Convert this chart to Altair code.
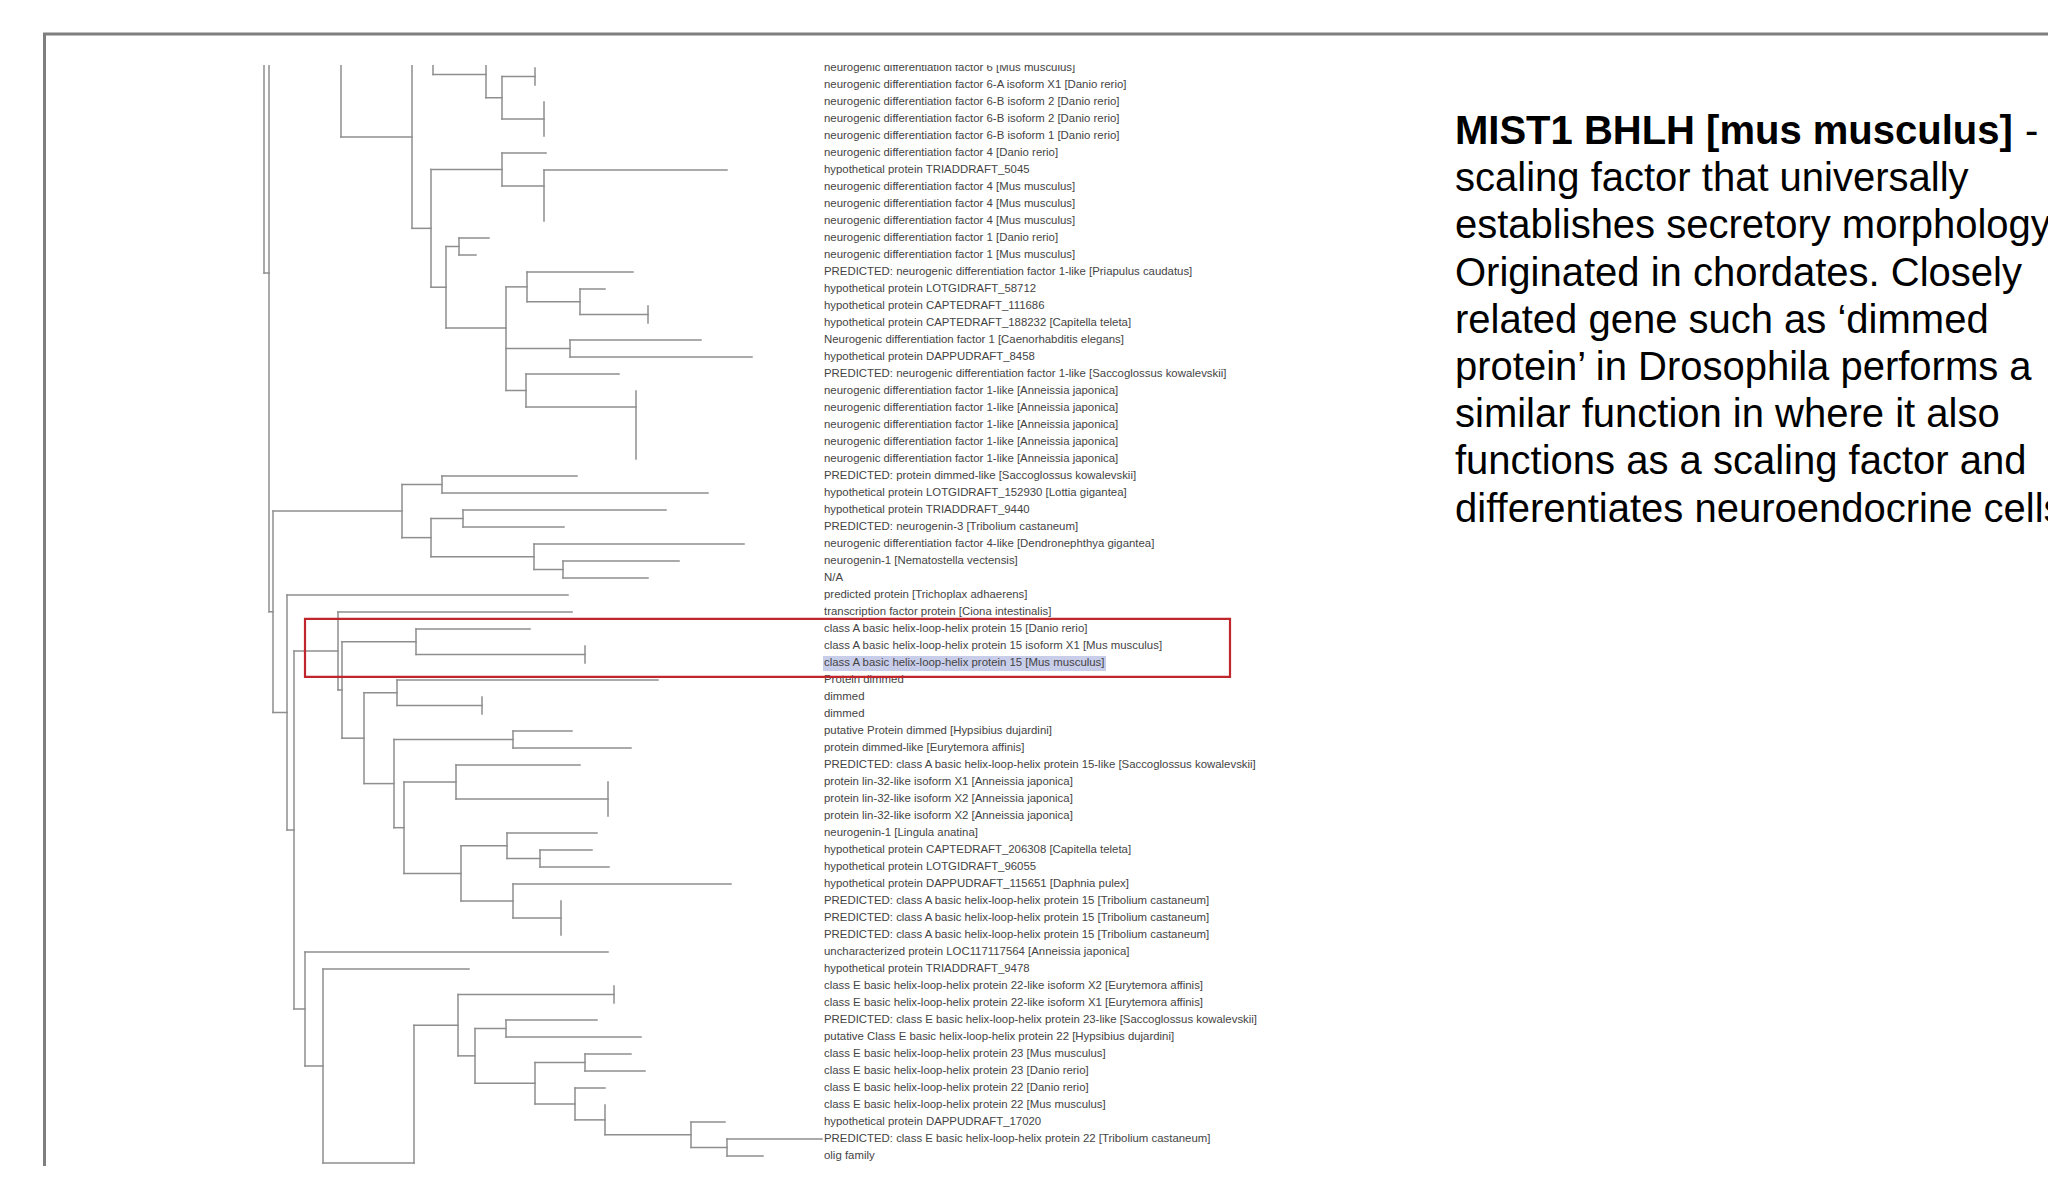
import altair as alt
import pandas as pd

# ---------------- data ----------------
# leaf labels, top to bottom (leaf index = row)
leaf_names = [
    "neurogenic differentiation factor 6 [Mus musculus]",
    "neurogenic differentiation factor 6-A isoform X1 [Danio rerio]",
    "neurogenic differentiation factor 6-B isoform 2 [Danio rerio]",
    "neurogenic differentiation factor 6-B isoform 2 [Danio rerio]",
    "neurogenic differentiation factor 6-B isoform 1 [Danio rerio]",
    "neurogenic differentiation factor 4 [Danio rerio]",
    "hypothetical protein TRIADDRAFT_5045",
    "neurogenic differentiation factor 4 [Mus musculus]",
    "neurogenic differentiation factor 4 [Mus musculus]",
    "neurogenic differentiation factor 4 [Mus musculus]",
    "neurogenic differentiation factor 1 [Danio rerio]",
    "neurogenic differentiation factor 1 [Mus musculus]",
    "PREDICTED: neurogenic differentiation factor 1-like [Priapulus caudatus]",
    "hypothetical protein LOTGIDRAFT_58712",
    "hypothetical protein CAPTEDRAFT_111686",
    "hypothetical protein CAPTEDRAFT_188232 [Capitella teleta]",
    "Neurogenic differentiation factor 1 [Caenorhabditis elegans]",
    "hypothetical protein DAPPUDRAFT_8458",
    "PREDICTED: neurogenic differentiation factor 1-like [Saccoglossus kowalevskii]",
    "neurogenic differentiation factor 1-like [Anneissia japonica]",
    "neurogenic differentiation factor 1-like [Anneissia japonica]",
    "neurogenic differentiation factor 1-like [Anneissia japonica]",
    "neurogenic differentiation factor 1-like [Anneissia japonica]",
    "neurogenic differentiation factor 1-like [Anneissia japonica]",
    "PREDICTED: protein dimmed-like [Saccoglossus kowalevskii]",
    "hypothetical protein LOTGIDRAFT_152930 [Lottia gigantea]",
    "hypothetical protein TRIADDRAFT_9440",
    "PREDICTED: neurogenin-3 [Tribolium castaneum]",
    "neurogenic differentiation factor 4-like [Dendronephthya gigantea]",
    "neurogenin-1 [Nematostella vectensis]",
    "N/A",
    "predicted protein [Trichoplax adhaerens]",
    "transcription factor protein [Ciona intestinalis]",
    "class A basic helix-loop-helix protein 15 [Danio rerio]",
    "class A basic helix-loop-helix protein 15 isoform X1 [Mus musculus]",
    "class A basic helix-loop-helix protein 15 [Mus musculus]",
    "Protein dimmed",
    "dimmed",
    "dimmed",
    "putative Protein dimmed [Hypsibius dujardini]",
    "protein dimmed-like [Eurytemora affinis]",
    "PREDICTED: class A basic helix-loop-helix protein 15-like [Saccoglossus kowalevskii]",
    "protein lin-32-like isoform X1 [Anneissia japonica]",
    "protein lin-32-like isoform X2 [Anneissia japonica]",
    "protein lin-32-like isoform X2 [Anneissia japonica]",
    "neurogenin-1 [Lingula anatina]",
    "hypothetical protein CAPTEDRAFT_206308 [Capitella teleta]",
    "hypothetical protein LOTGIDRAFT_96055",
    "hypothetical protein DAPPUDRAFT_115651 [Daphnia pulex]",
    "PREDICTED: class A basic helix-loop-helix protein 15 [Tribolium castaneum]",
    "PREDICTED: class A basic helix-loop-helix protein 15 [Tribolium castaneum]",
    "PREDICTED: class A basic helix-loop-helix protein 15 [Tribolium castaneum]",
    "uncharacterized protein LOC117117564 [Anneissia japonica]",
    "hypothetical protein TRIADDRAFT_9478",
    "class E basic helix-loop-helix protein 22-like isoform X2 [Eurytemora affinis]",
    "class E basic helix-loop-helix protein 22-like isoform X1 [Eurytemora affinis]",
    "PREDICTED: class E basic helix-loop-helix protein 23-like [Saccoglossus kowalevskii]",
    "putative Class E basic helix-loop-helix protein 22 [Hypsibius dujardini]",
    "class E basic helix-loop-helix protein 23 [Mus musculus]",
    "class E basic helix-loop-helix protein 23 [Danio rerio]",
    "class E basic helix-loop-helix protein 22 [Danio rerio]",
    "class E basic helix-loop-helix protein 22 [Mus musculus]",
    "hypothetical protein DAPPUDRAFT_17020",
    "PREDICTED: class E basic helix-loop-helix protein 22 [Tribolium castaneum]",
    "olig family",
]

# parent node of each leaf
leaf_parent = [
    "N507", "N507", "N515a", "N515a", "N515a", "N477b", "N515b", "N515b", "N515b", "N515b",
    "N438", "N438", "N500a", "N547", "N609", "N609", "N538", "N538", "N499",
    "N598", "N598", "N598", "N598", "N598",
    "N423", "N423", "N442", "N442", "N506", "N532", "N532",
    "P", "A", "N400", "N552", "N552",
    "D", "N459", "N459", "F", "F", "H", "N573", "N573", "N573",
    "J", "K", "K", "L", "N530", "N530", "N530",
    "R", "S", "N578", "N578", "N481c", "N481c", "N552c", "N552c", "N543", "N570",
    "N647", "N680", "N680",
]

# tip distance of each leaf (branch-length units from the root)
leaf_tip = [
    272, 272, 281, 281, 281, 283, 464, 281, 281, 281,
    226, 213, 370, 342, 385, 385, 438, 489, 356,
    373, 373, 373, 373, 373,
    314, 445, 403, 301, 481, 416, 385,
    305, 309, 267, 322, 322,
    395, 219, 219, 309, 368, 317, 345, 345, 345,
    334, 329, 346, 468, 298, 298, 298,
    345, 206, 351, 351, 334, 378, 368, 382, 342, 342,
    462, 559, 500,
]

# internal nodes: id, parent, distance from root
node_ids = [
    "R0", "W", "N332", "N396", "N415", "N463", "N477", "N507", "N515a",
    "N413", "N477b", "N515b", "N427", "N438", "N481", "N500a", "N547", "N609",
    "N538", "N499", "N598",
    "X", "N387", "N423", "N413b", "N442", "N506", "N532",
    "P", "Q", "A", "B", "N400", "N552", "C", "D", "N459", "E", "F", "G", "H",
    "N573", "I", "J", "K", "L", "N530",
    "R", "S", "T", "U", "N578", "N453", "N481c", "N507c", "N552c", "N543",
    "N570", "N647", "N680",
]
node_parent = [
    None, "R0", "W", "N332", "N396", "N415", "N463", "N477", "N477",
    "N396", "N413", "N477b", "N413", "N427", "N427", "N481", "N500a", "N547",
    "N481", "N481", "N499",
    "W", "X", "N387", "N387", "N413b", "N413b", "N506",
    "X", "P", "Q", "A", "B", "N400", "B", "C", "D", "C", "E", "E", "G",
    "H", "G", "I", "J", "I", "L",
    "Q", "R", "S", "T", "U", "U", "N453", "N453", "N507c", "N507c",
    "N543", "N570", "N647",
]
node_dist = [
    1, 6, 78, 149, 170, 223, 239, 272, 281,
    168, 239, 281, 183, 196, 243, 264, 317, 385,
    307, 263, 373,
    10, 139, 179, 168, 200, 271, 300,
    24, 31, 75, 79, 153, 322, 101, 134, 219, 131, 250, 141, 193,
    345, 198, 244, 277, 250, 298,
    42, 60, 151, 195, 351, 212, 243, 272, 322, 312,
    342, 428, 464,
]
# stem rows read directly where they are not the midpoint of the children
stem_row = {"N515b": 6.94, "N481": 15.29, "N598": 19.94, "T": 64.41}
# branches that continue above the cropped top edge of the picture
cropped_rows = [-20.0, -19.8, -3.0, -1.0]
cropped_parent = ["R0", "N332", "N415", "N463"]

label_dist = 561                        # where the leaf labels start
box_dist = [42, 967]                    # red box, horizontal extent
box_rows = [32.41, 35.82]               # red box, vertical extent
hl_dist = [560, 843]                    # selection highlight behind leaf 35
hl_rows = [34.59, 35.47]

title_bold = "MIST1 BHLH [mus musculus]"
paragraph = [
    "scaling factor that universally",
    "establishes secretory morphology.",
    "Originated in chordates. Closely",
    "related gene such as \u2018dimmed",
    "protein\u2019 in Drosophila performs a",
    "similar function in where it also",
    "functions as a scaling factor and",
    "differentiates neuroendocrine cells",
]

# ---------------- build tree segments ----------------
dist = dict(zip(node_ids, node_dist))
kids = {n: [] for n in node_ids}
for i, p in enumerate(leaf_parent):
    kids[p].append(("leaf", i))
for r, p in zip(cropped_rows, cropped_parent):
    kids[p].append(("cut", r))
for n, p in zip(node_ids, node_parent):
    if p is not None:
        kids[p].append(("node", n))

memo = {}


def row_of(kind, key):
    if kind in ("leaf", "cut"):
        return float(key)
    if key in memo:
        return memo[key]
    ys = [row_of(k, v) for k, v in kids[key]]
    y = stem_row.get(key, (min(ys) + max(ys)) / 2)
    memo[key] = y
    return y


segs = []
for n, p in zip(node_ids, node_parent):
    y = row_of("node", n)
    if p is not None and dist[n] > dist[p]:
        segs.append({"x": dist[p], "x2": dist[n], "y": y, "y2": y})
    ys = [row_of(k, v) for k, v in kids[n]] + [y]
    segs.append({"x": dist[n], "x2": dist[n], "y": min(ys), "y2": max(ys)})
for i, p in enumerate(leaf_parent):
    if leaf_tip[i] > dist[p]:
        segs.append({"x": dist[p], "x2": leaf_tip[i], "y": float(i), "y2": float(i)})
seg_df = pd.DataFrame(segs)

lab_df = pd.DataFrame({"row": list(range(len(leaf_names))),
                       "name": leaf_names,
                       "x": [label_dist] * len(leaf_names)})
box_df = pd.DataFrame({"x": [box_dist[0]], "x2": [box_dist[1]],
                       "y": [box_rows[0]], "y2": [box_rows[1]]})
hl_df = pd.DataFrame({"x": [hl_dist[0]], "x2": [hl_dist[1]],
                      "y": [hl_rows[0]], "y2": [hl_rows[1]]})
one = pd.DataFrame({"k": [0]})

# ---------------- scales / layout ----------------
W, H = 2040, 1101
xs = alt.Scale(domain=[-255, 1785], nice=False, zero=False)
ys = alt.Scale(domain=[-3 / 17, (H - 3) / 17], nice=False, zero=False, reverse=True)
FONT = "Liberation Sans"

frame = alt.Chart(one).mark_rect(filled=False, color="#7f7f7f", strokeWidth=3).encode(
    x=alt.value(36.5), x2=alt.value(2400), y=alt.value(-31), y2=alt.value(1400))

highlight = alt.Chart(hl_df).mark_rect(color="#c8cdea", clip=True).encode(
    x=alt.X("x:Q", scale=xs, axis=None), x2="x2",
    y=alt.Y("y:Q", scale=ys, axis=None), y2="y2")

tree = alt.Chart(seg_df).mark_rule(color="#8e8e8e", strokeWidth=1.5,
                                   strokeCap="square", clip=True).encode(
    x=alt.X("x:Q", scale=xs, axis=None), x2="x2",
    y=alt.Y("y:Q", scale=ys, axis=None), y2="y2")

labels = alt.Chart(lab_df).mark_text(align="left", baseline="middle", font=FONT,
                                     fontSize=11.4, color="#444444", clip=True).encode(
    x=alt.X("x:Q", scale=xs, axis=None),
    y=alt.Y("row:Q", scale=ys, axis=None),
    text="name:N")

box = alt.Chart(box_df).mark_rect(filled=False, color="#c0272d", strokeWidth=2.2).encode(
    x=alt.X("x:Q", scale=xs, axis=None), x2="x2",
    y=alt.Y("y:Q", scale=ys, axis=None), y2="y2")

title = alt.Chart(one).mark_text(align="left", baseline="alphabetic", font=FONT,
                                 fontSize=40, fontWeight="bold", color="#000000",
                                 text=title_bold).encode(
    x=alt.value(1447), y=alt.value(79))

dash = alt.Chart(one).mark_text(align="left", baseline="alphabetic", font=FONT,
                                fontSize=40, color="#000000", text="-").encode(
    x=alt.value(2017), y=alt.value(79))

para = alt.Chart(one).mark_text(align="left", baseline="alphabetic", font=FONT,
                                fontSize=40, color="#000000", lineHeight=47.2,
                                text=paragraph).encode(
    x=alt.value(1447), y=alt.value(126.2))

chart = alt.layer(frame, highlight, tree, labels, box, title, dash, para).properties(
    width=W, height=H,
    autosize=alt.AutoSizeParams(type="none"),
    padding={"left": 0, "top": 57, "right": 0, "bottom": 0},
    background="white",
).configure_view(stroke=None)

chart.save("out.html", embed_options={"renderer": "svg", "actions": False})
